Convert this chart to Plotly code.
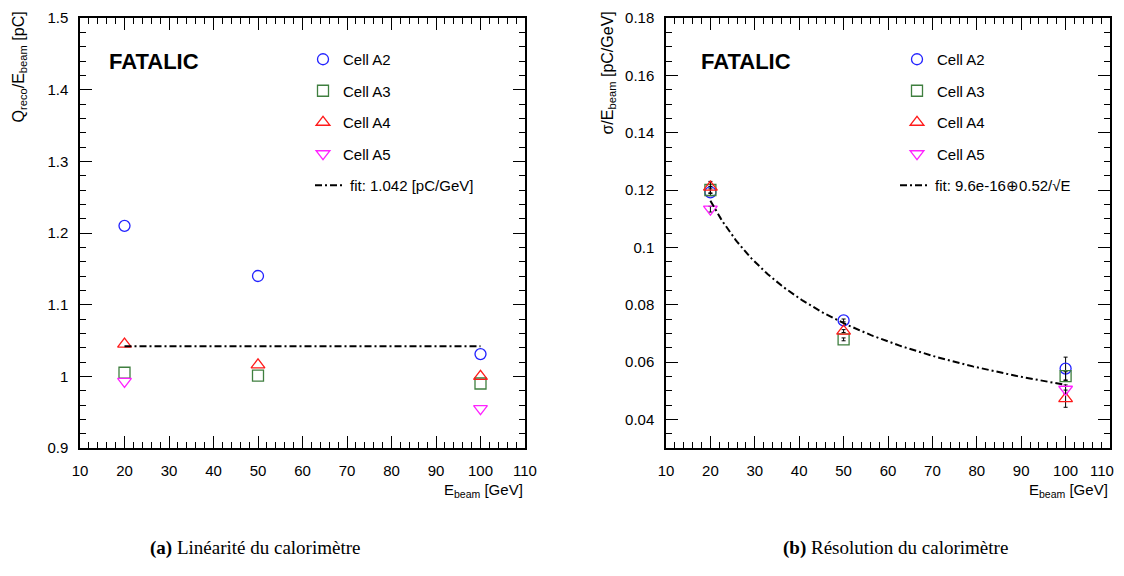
import numpy as np
import plotly.graph_objects as go

# ---------------- data ----------------
E_beam = [20, 50, 100]
cells = ["Cell A2", "Cell A3", "Cell A4", "Cell A5"]

lin_A2 = [1.210, 1.140, 1.031]
lin_A3 = [1.005, 1.001, 0.990]
lin_A4 = [1.045, 1.016, 1.000]
lin_A5 = [0.993, None, 0.955]
lin_fit_value = 1.042

res_A2 = [0.1192, 0.0745, 0.0577]
res_A3 = [0.1200, 0.0679, 0.0551]
res_A4 = [0.1210, 0.0708, 0.0472]
res_A5 = [0.1133, None, 0.0505]
res_A2_err = [0.0012, 0.0005, 0.0040]
res_A3_err = [0.0012, 0.0005, 0.0015]
res_A4_err = [0.0020, 0.0005, 0.0030]
res_A5_err = [0.0010, 0.0, 0.0015]
res_fit_a = 9.6e-16
res_fit_b = 0.52

x_ticks = [10, 20, 30, 40, 50, 60, 70, 80, 90, 100, 110]
x_ticktext = [str(v) for v in x_ticks]

# ---------------- style ----------------
FONT = "Liberation Sans, Arial, Helvetica, sans-serif"
SERIF = "Liberation Serif, Times New Roman, serif"
colors = ["#2222ff", "#3f7f3f", "#ff1a1a", "#ff22ff"]
symbols = ["circle-open", "square-open", "triangle-up-open", "triangle-down-open"]
sizes = [11, 11, 12, 12]

# page content is offset by the body margin (8 px on every side)
OFF = 8
W, H = 1124 - 2 * OFF, 576 - 2 * OFF
fig = go.Figure()

lin_series = [lin_A2, lin_A3, lin_A4, lin_A5]
res_series = [res_A2, res_A3, res_A4, res_A5]
res_errs = [res_A2_err, res_A3_err, res_A4_err, res_A5_err]

for i, name in enumerate(cells):
    fig.add_trace(go.Scatter(
        x=E_beam, y=lin_series[i], mode="markers", name=name,
        marker=dict(symbol=symbols[i], size=sizes[i], color=colors[i],
                    line=dict(width=1.3, color=colors[i])),
        xaxis="x", yaxis="y", legend="legend", legendgroup="l%d" % i,
    ))

fig.add_trace(go.Scatter(
    x=[E_beam[0], E_beam[-1]], y=[lin_fit_value, lin_fit_value], mode="lines",
    name="fit: %.3f [pC/GeV]" % lin_fit_value,
    line=dict(color="black", width=2, dash="7px,3px,2px,3px"),
    xaxis="x", yaxis="y", legend="legend3",
))

for i, name in enumerate(cells):
    fig.add_trace(go.Scatter(
        x=E_beam, y=res_series[i], mode="markers", name=name,
        marker=dict(symbol=symbols[i], size=sizes[i], color=colors[i],
                    line=dict(width=1.3, color=colors[i])),
        error_y=dict(type="data", array=res_errs[i], color="black", thickness=1, width=2),
        xaxis="x2", yaxis="y2", legend="legend2", legendgroup="r%d" % i,
    ))

E_fit = np.linspace(E_beam[0], E_beam[-1], 200)
res_fit = np.sqrt(res_fit_a ** 2 + res_fit_b ** 2 / E_fit)
fig.add_trace(go.Scatter(
    x=E_fit, y=res_fit, mode="lines",
    name="fit: 9.6e-16\u22950.52/\u221AE",
    line=dict(color="black", width=2, dash="7px,3px,2px,3px"),
    xaxis="x2", yaxis="y2", legend="legend4",
))

# ---------------- axes ----------------
def px_x(p):
    return (p - OFF) / W

def px_y(p):
    return 1 - (p - OFF) / H

axis_common = dict(
    showline=True, linecolor="black", linewidth=1.5, mirror="ticks",
    ticks="inside", ticklen=12, tickwidth=1.2, tickcolor="black",
    showgrid=False, zeroline=False, automargin=False, ticklabeloverflow="allow",
    tickfont=dict(family=FONT, size=15, color="black"),
)

top, bottom = px_y(18), px_y(448)

# last label of the right panel is drawn separately so it stays inside the page
right_ticktext = x_ticktext[:-1] + [""]

fig.update_layout(
    xaxis=dict(domain=[px_x(80), px_x(525)], range=[10, 110], tickvals=x_ticks, ticktext=x_ticktext,
               minor=dict(dtick=2, ticklen=6, ticks="inside", tickcolor="black", tickwidth=1),
               anchor="y", ticklabelstandoff=8, **axis_common),
    yaxis=dict(domain=[bottom, top], range=[0.9, 1.5], dtick=0.1,
               minor=dict(dtick=0.02, ticklen=6, ticks="inside", tickcolor="black", tickwidth=1),
               anchor="x", ticklabelstandoff=7, **axis_common),
    xaxis2=dict(domain=[px_x(666), px_x(1110)], range=[10, 110], tickvals=x_ticks, ticktext=right_ticktext,
                minor=dict(dtick=2, ticklen=6, ticks="inside", tickcolor="black", tickwidth=1),
                anchor="y2", ticklabelstandoff=8, **axis_common),
    yaxis2=dict(domain=[bottom, top], range=[0.03, 0.18], dtick=0.02, tick0=0.0,
                minor=dict(dtick=0.005, ticklen=6, ticks="inside", tickcolor="black", tickwidth=1),
                anchor="x2", ticklabelstandoff=7, **axis_common),
)

legend_common = dict(
    bgcolor="rgba(0,0,0,0)", borderwidth=0,
    font=dict(family=FONT, size=15, color="black"),
    xanchor="left", yanchor="top", tracegroupgap=9,
    itemclick=False, itemdoubleclick=False,
)

fig.update_layout(
    legend=dict(x=px_x(303), y=px_y(43), **legend_common),
    legend2=dict(x=px_x(897), y=px_y(43), **legend_common),
    legend3=dict(x=px_x(310), y=px_y(169), **legend_common),
    legend4=dict(x=px_x(895), y=px_y(169), **legend_common),
)

ann = []
ann.append(dict(text=x_ticktext[-1], x=x_ticks[-1], xref="x2", y=px_y(470), yref="paper",
                xanchor="right", yanchor="middle", xshift=6, showarrow=False,
                font=dict(family=FONT, size=15, color="black")))
for xp in (107, 699):
    ann.append(dict(text="<b>FATALIC</b>", x=px_x(xp), y=px_y(62), xref="paper", yref="paper",
                    xanchor="left", yanchor="middle", showarrow=False,
                    font=dict(family=FONT, size=22, color="black")))
for xp in (525, 1110):
    ann.append(dict(text="E<sub>beam</sub> [GeV]", x=px_x(xp), y=px_y(490), xref="paper", yref="paper",
                    xanchor="right", yanchor="middle", showarrow=False,
                    font=dict(family=FONT, size=15, color="black")))
ann.append(dict(text="Q<sub>reco</sub>/E<sub>beam</sub> [pC]", x=px_x(19), y=px_y(10),
                xref="paper", yref="paper", xanchor="center", yanchor="top", textangle=-90,
                showarrow=False, font=dict(family=FONT, size=16, color="black")))
ann.append(dict(text="\u03c3/E<sub>beam</sub> [pC/GeV]", x=px_x(608), y=px_y(10),
                xref="paper", yref="paper", xanchor="center", yanchor="top", textangle=-90,
                showarrow=False, font=dict(family=FONT, size=16, color="black")))
ann.append(dict(text="<b>(a)</b> Linéarité du calorimètre", x=px_x(255), y=px_y(548),
                xref="paper", yref="paper", xanchor="center", yanchor="middle",
                showarrow=False, font=dict(family=SERIF, size=19, color="black")))
ann.append(dict(text="<b>(b)</b> Résolution du calorimètre", x=px_x(895), y=px_y(548),
                xref="paper", yref="paper", xanchor="center", yanchor="middle",
                showarrow=False, font=dict(family=SERIF, size=19, color="black")))

fig.update_layout(
    annotations=ann,
    width=W, height=H,
    margin=dict(l=0, r=0, t=0, b=0),
    paper_bgcolor="white", plot_bgcolor="white",
    showlegend=True,
)

fig.write_html("out.html")
